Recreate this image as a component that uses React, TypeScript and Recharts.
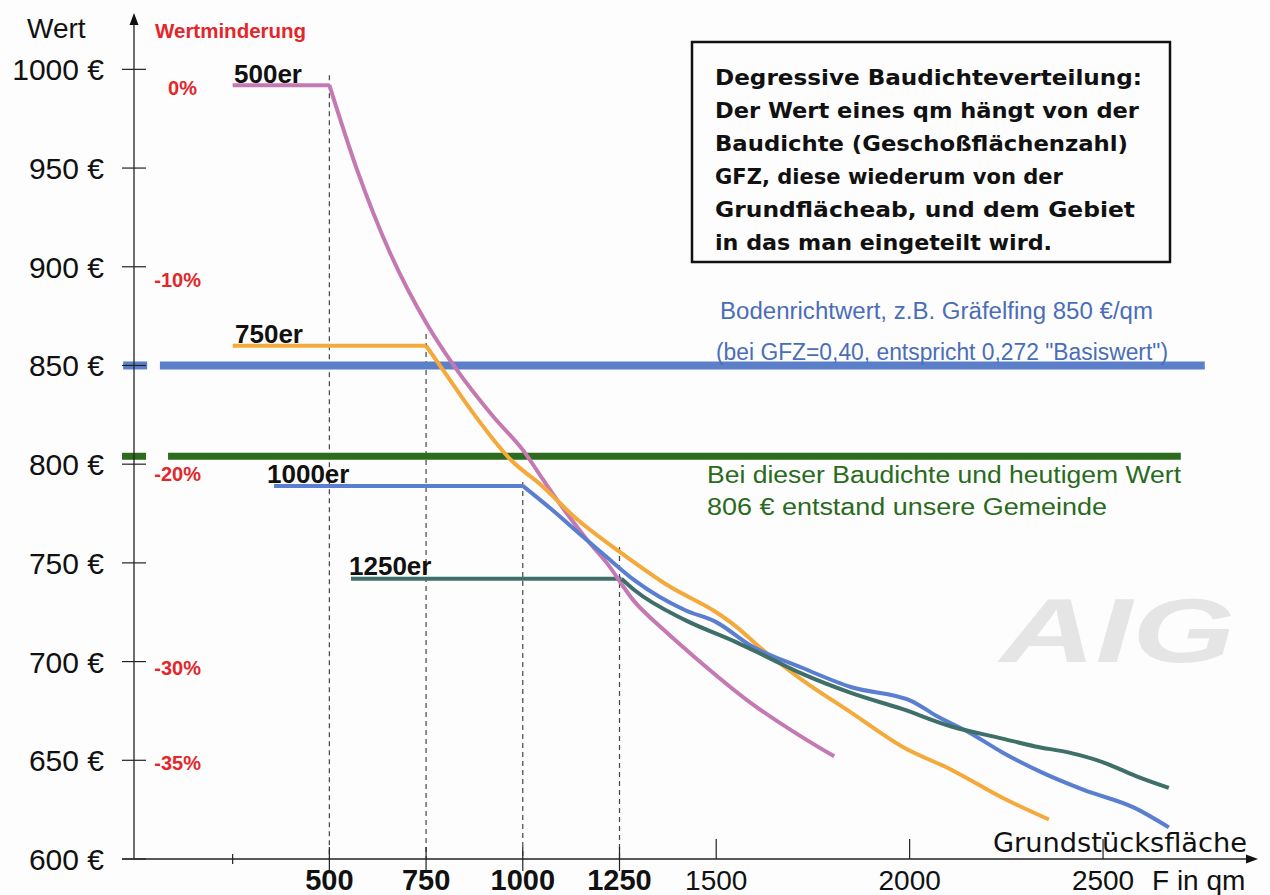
import { ComposedChart, Line, XAxis, YAxis, ReferenceLine } from "recharts";

// Grundstücksfläche (qm) und Wert (€/qm) je Baudichte-Kurve
const qm500 = [250, 500, 570, 657, 752, 825, 924, 1001, 1053, 1114, 1165, 1217, 1286, 1365, 1440, 1590, 1720, 1805];
const wert500 = [992, 992, 950, 907, 871, 849, 824, 807, 792, 775, 762, 750, 731, 716, 703, 679, 662, 652];

const qm750 = [250, 750, 800, 860, 970, 1050, 1135, 1255, 1380, 1500, 1550, 1620, 1720, 1850, 1980, 2110, 2240, 2360];
const wert750 = [860, 860, 846, 829, 802, 789, 773, 755, 738, 725, 718, 706, 691, 674, 657, 645, 631, 620];

const qm1000 = [357, 1000, 1075, 1145, 1205, 1290, 1420, 1500, 1590, 1720, 1850, 2005, 2065, 2155, 2240, 2340, 2450, 2580, 2670];
const wert1000 = [789, 789, 777, 765, 755, 741, 726, 720, 708, 697, 687, 680, 673, 664, 654, 644, 635, 626, 616];

const qm1250 = [556, 1255, 1290, 1420, 1550, 1635, 1720, 1850, 1980, 2110, 2240, 2325, 2410, 2500, 2585, 2670];
const wert1250 = [742, 742, 736, 721, 710, 702, 694, 684, 676, 667, 661, 657, 654, 649, 642, 636];

// Bodenrichtwert und Gemeinde-Wert
const bodenrichtwert = 850;
const gemeindeWert = 804;

// Knickpunkte (gestrichelte Senkrechte) und deren obere Enden
const knickQm = [500, 750, 1000, 1250];
const knickOben = [997, 866, 791, 758];

const yTicks = [600, 650, 700, 750, 800, 850, 900, 950, 1000];
const xTicks = [250, 500, 750, 1000, 1250, 1500, 2000, 2500];
const boldX = [500, 750, 1000, 1250];

const boxLines = [
  "Degressive Baudichteverteilung:",
  "Der Wert eines qm hängt von der",
  "Baudichte (Geschoßflächenzahl)",
  "GFZ, diese wiederum von der",
  "Grundflächeab, und dem Gebiet",
  "in das man eingeteilt wird.",
];
const boxWidths = [427, 424, 413, 348, 420, 337];

const toRows = (qs: number[], vs: number[]) => qs.map((q, i) => ({ q, v: vs[i] }));

const series = [
  { name: "500er", qs: qm500, vs: wert500, color: "#c479b3" },
  { name: "750er", qs: qm750, vs: wert750, color: "#f4a93a" },
  { name: "1000er", qs: qm1000, vs: wert1000, color: "#5b7fd0" },
  { name: "1250er", qs: qm1250, vs: wert1250, color: "#3e7069" },
];

const sans = "'Liberation Sans', Arial, sans-serif";

function YTick({ x, y, payload }: any) {
  return (
    <g>
      <line x1={x - 12} x2={x + 12} y1={y} y2={y} stroke="#222" strokeWidth={1.2} />
      <text x={x - 30} y={y + 11} textAnchor="end" fontFamily={sans} fontSize={30} fill="#111">
        {`${payload.value} €`}
      </text>
    </g>
  );
}

function XTick({ x, y, payload }: any) {
  const v = payload.value;
  const bold = boldX.includes(v);
  let y1 = y - 20;
  let y2 = y;
  if (v === 250) {
    y1 = y - 5;
    y2 = y + 5;
  } else if (bold) {
    y1 = y - 12;
    y2 = y + 12;
  }
  return (
    <g>
      <line x1={x} x2={x} y1={y1} y2={y2} stroke="#222" strokeWidth={1.2} />
      {v !== 250 && (
        <text
          x={x}
          y={y + 31}
          textAnchor="middle"
          fontFamily={sans}
          fontSize={bold ? 29 : 28}
          fontWeight={bold ? 700 : 400}
          fill="#111"
        >
          {v}
        </text>
      )}
    </g>
  );
}

export default function App() {
  return (
    <div style={{ position: "absolute", left: 0, top: 0, width: 1270, height: 895, background: "#fdfdfd" }}>
      <ComposedChart width={1270} height={895} margin={{ top: 20, right: 18, bottom: 35, left: 133 }}>
        <XAxis
          type="number"
          dataKey="q"
          domain={[-5, 2885]}
          ticks={xTicks}
          interval={0}
          height={1}
          tickSize={0}
          tickMargin={0}
          tick={<XTick />}
          axisLine={{ stroke: "#222", strokeWidth: 1.3 }}
          tickLine={false}
        />
        <YAxis
          type="number"
          domain={[600, 1025]}
          ticks={yTicks}
          interval={0}
          width={1}
          tickSize={0}
          tickMargin={0}
          tick={<YTick />}
          axisLine={{ stroke: "#222", strokeWidth: 1.3 }}
          tickLine={false}
        />

        {knickQm.map((q, i) => (
          <ReferenceLine
            key={q}
            segment={[{ x: q, y: knickOben[i] }, { x: q, y: 600 }]}
            stroke="#444"
            strokeWidth={1.2}
            strokeDasharray="5 4"
          />
        ))}

        <ReferenceLine
          segment={[{ x: -33, y: bodenrichtwert }, { x: 29, y: bodenrichtwert }]}
          stroke="#5b80c9"
          strokeWidth={8}
          ifOverflow="visible"
        />
        <ReferenceLine
          segment={[{ x: 62, y: bodenrichtwert }, { x: 2763, y: bodenrichtwert }]}
          stroke="#5b80c9"
          strokeWidth={8}
        />
        <ReferenceLine
          segment={[{ x: -36, y: gemeindeWert }, { x: 26, y: gemeindeWert }]}
          stroke="#2d6b1f"
          strokeWidth={7}
          ifOverflow="visible"
        />
        <ReferenceLine
          segment={[{ x: 83, y: gemeindeWert }, { x: 2701, y: gemeindeWert }]}
          stroke="#2d6b1f"
          strokeWidth={7}
        />

        {/* flacher Teil bis zum Knick, danach geglättete Kurve */}
        {series.map((s) => (
          <Line
            key={s.name + "-flat"}
            data={toRows(s.qs.slice(0, 2), s.vs.slice(0, 2))}
            dataKey="v"
            type="linear"
            stroke={s.color}
            strokeWidth={4}
            dot={false}
            activeDot={false}
            isAnimationActive={false}
          />
        ))}
        {series.map((s) => (
          <Line
            key={s.name + "-curve"}
            data={toRows(s.qs.slice(1), s.vs.slice(1))}
            dataKey="v"
            type="monotone"
            stroke={s.color}
            strokeWidth={4}
            strokeLinejoin="round"
            dot={false}
            activeDot={false}
            isAnimationActive={false}
          />
        ))}
      </ComposedChart>

      <svg
        width={1270}
        height={895}
        style={{ position: "absolute", left: 0, top: 0, pointerEvents: "none" }}
        fontFamily={sans}
      >
        {/* Achsenpfeile */}
        <polygon points="134,13 129.5,25 138.5,25" fill="#111" />
        <polygon points="1258,859 1246,854.5 1246,863.5" fill="#111" />
        <line x1={122} x2={134} y1={859} y2={859} stroke="#222" strokeWidth={1.3} />

        <text x={27} y={38} fontSize={28} fill="#111">Wert</text>
        <text x={155} y={38} fontSize={20.5} fontWeight={700} fill="#e3262a">Wertminderung</text>

        <text x={197} y={95} textAnchor="end" fontSize={20} fontWeight={700} fill="#e3262a">0%</text>
        <text x={201} y={287} textAnchor="end" fontSize={20} fontWeight={700} fill="#e3262a">-10%</text>
        <text x={201} y={481} textAnchor="end" fontSize={20} fontWeight={700} fill="#e3262a">-20%</text>
        <text x={201} y={675} textAnchor="end" fontSize={20} fontWeight={700} fill="#e3262a">-30%</text>
        <text x={201} y={770} textAnchor="end" fontSize={20} fontWeight={700} fill="#e3262a">-35%</text>

        <text x={234} y={83} fontSize={26} fontWeight={700} fill="#111">500er</text>
        <text x={235} y={343} fontSize={26} fontWeight={700} fill="#111">750er</text>
        <text x={267} y={483} fontSize={26} fontWeight={700} fill="#111">1000er</text>
        <text x={349} y={575} fontSize={26} fontWeight={700} fill="#111">1250er</text>

        <rect x={692} y={42} width={478} height={220} fill="#fdfdfd" stroke="#111" strokeWidth={2.5} />
        {boxLines.map((t, i) => (
          <text
            key={i}
            x={715}
            y={85 + i * 33}
            fontFamily="'DejaVu Sans', sans-serif"
            fontSize={21}
            fontWeight={700}
            fill="#111"
            textLength={boxWidths[i]}
            lengthAdjust="spacingAndGlyphs"
          >
            {t}
          </text>
        ))}

        <text x={720} y={319} fontSize={23} fill="#4a6db8" textLength={433} lengthAdjust="spacingAndGlyphs">
          Bodenrichtwert, z.B. Gräfelfing 850 €/qm
        </text>
        <text x={716} y={360} fontSize={23} fill="#4a6db8" textLength={452} lengthAdjust="spacingAndGlyphs">
          (bei GFZ=0,40, entspricht 0,272 "Basiswert")
        </text>
        <text x={707} y={483} fontSize={23} fill="#2a6a1c" textLength={474} lengthAdjust="spacingAndGlyphs">
          Bei dieser Baudichte und heutigem Wert
        </text>
        <text x={707} y={515} fontSize={23} fill="#2a6a1c" textLength={400} lengthAdjust="spacingAndGlyphs">
          806 € entstand unsere Gemeinde
        </text>

        <text
          x={1000}
          y={662}
          fontSize={90}
          fontWeight={700}
          fontStyle="italic"
          fill="#e5e5e5"
          textLength={235}
          lengthAdjust="spacingAndGlyphs"
        >
          AIG
        </text>

        <text x={993} y={852} fontFamily="'DejaVu Sans', sans-serif" fontSize={26} fill="#111" textLength={254} lengthAdjust="spacingAndGlyphs">
          Grundstücksfläche
        </text>
        <text x={1152} y={890} fontSize={28} fill="#111">F in qm</text>
      </svg>
    </div>
  );
}
